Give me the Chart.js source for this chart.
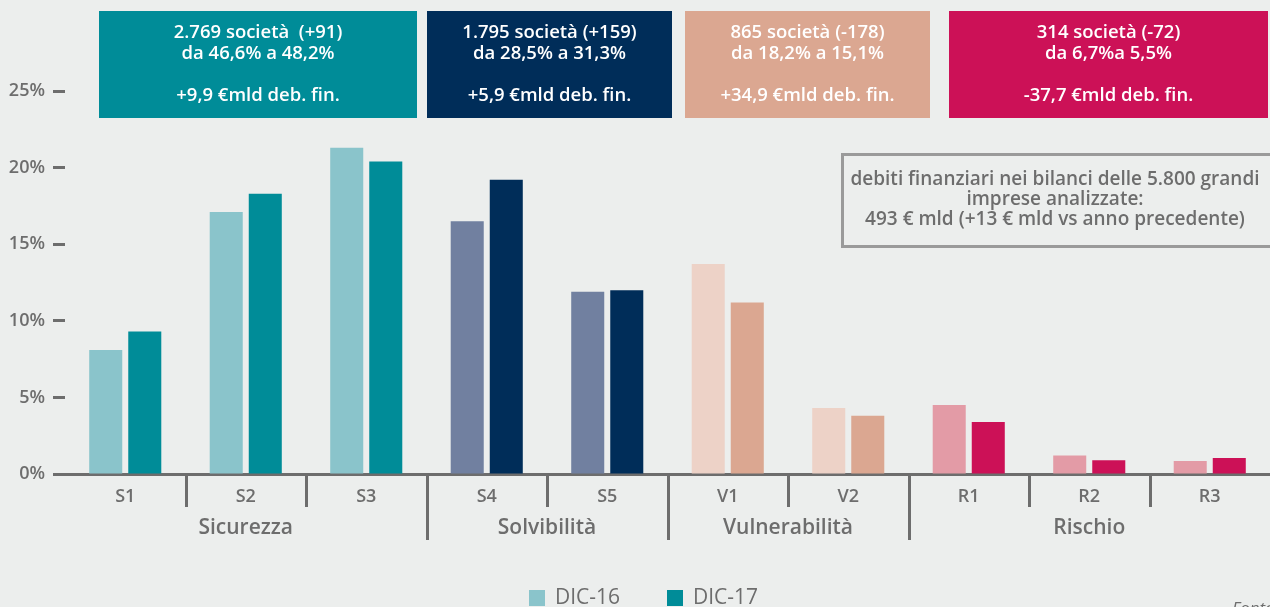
<!DOCTYPE html>
<html>
<head>
<meta charset="utf-8">
<script src="https://cdn.jsdelivr.net/npm/chart.js@4/dist/chart.umd.min.js"></script>
<style>
  html, body { margin: 0; padding: 0; background: #eceeed; }
  #wrap { width: 1270px; height: 607px; }
</style>
</head>
<body>
<div id="wrap"><canvas id="chart" width="1270" height="607"></canvas></div>
<script>
// data (% of companies)
const categories = ['S1', 'S2', 'S3', 'S4', 'S5', 'V1', 'V2', 'R1', 'R2', 'R3'];
const groups = ['Sicurezza', 'Sicurezza', 'Sicurezza', 'Solvibilità', 'Solvibilità',
  'Vulnerabilità', 'Vulnerabilità', 'Rischio', 'Rischio', 'Rischio'];
const dic16 = [8.1, 17.1, 21.3, 16.5, 11.9, 13.7, 4.3, 4.5, 1.2, 0.85];
const dic17 = [9.3, 18.3, 20.4, 19.2, 12.0, 11.2, 3.8, 3.4, 0.9, 1.05];
const seriesNames = ['DIC-16', 'DIC-17'];
const yTicks = [0, 5, 10, 15, 20, 25];

const groupColors16 = {
  'Sicurezza': '#8ac4cb', 'Solvibilità': '#7180a0',
  'Vulnerabilità': '#edd2c7', 'Rischio': '#e39ba6'
};
const groupColors17 = {
  'Sicurezza': '#008c98', 'Solvibilità': '#002d59',
  'Vulnerabilità': '#dba791', 'Rischio': '#cc1157'
};

const boxes = [
  { x0: 99, x1: 417, color: '#008c98', lines: ['2.769 società  (+91)', 'da 46,6% a 48,2%', '', '+9,9 €mld deb. fin.'] },
  { x0: 427, x1: 672, color: '#002d59', lines: ['1.795 società (+159)', 'da 28,5% a 31,3%', '', '+5,9 €mld deb. fin.'] },
  { x0: 685, x1: 930, color: '#dba791', lines: ['865 società (-178)', 'da 18,2% a 15,1%', '', '+34,9 €mld deb. fin.'] },
  { x0: 949, x1: 1268, color: '#cc1157', lines: ['314 società (-72)', 'da 6,7%a 5,5%', '', '-37,7 €mld deb. fin.'] }
];
const noteLines = [
  'debiti finanziari nei bilanci delle 5.800 grandi',
  'imprese analizzate:',
  '493 € mld (+13 € mld vs anno precedente)'
];

const GREY = '#6d6d6d';
const FONT = "'Open Sans', sans-serif";

const extras = {
  id: 'extras',
  beforeDraw(chart) {
    const ctx = chart.ctx;
    ctx.save();
    ctx.fillStyle = '#eceeed';
    ctx.fillRect(0, 0, chart.width, chart.height);
    ctx.restore();
  },
  afterDraw(chart) {
    const ctx = chart.ctx;
    const x = chart.scales.x;
    const bottom = chart.chartArea.bottom;
    ctx.save();

    // dividers between categories, longer ones between groups
    ctx.strokeStyle = GREY;
    ctx.lineWidth = 3;
    for (let i = 0; i < categories.length - 1; i++) {
      const px = Math.round((x.getPixelForTick(i) + x.getPixelForTick(i + 1)) / 2) + 0.5;
      const long = groups[i] !== groups[i + 1];
      ctx.beginPath();
      ctx.moveTo(px, bottom);
      ctx.lineTo(px, bottom + (long ? 66 : 33));
      ctx.stroke();
    }

    // group names
    ctx.fillStyle = GREY;
    ctx.font = '600 21px ' + FONT;
    ctx.textAlign = 'center';
    ctx.textBaseline = 'middle';
    const half = (x.getPixelForTick(1) - x.getPixelForTick(0)) / 2;
    [...new Set(groups)].forEach(g => {
      const first = groups.indexOf(g);
      const last = groups.lastIndexOf(g);
      const cx = (x.getPixelForTick(first) - half + x.getPixelForTick(last) + half) / 2;
      ctx.fillText(g, cx, bottom + 54);
    });

    // summary boxes on top
    boxes.forEach(b => {
      ctx.fillStyle = b.color;
      ctx.fillRect(b.x0, 11, b.x1 - b.x0, 107);
      ctx.fillStyle = '#ffffff';
      ctx.font = '600 18.5px ' + FONT;
      b.lines.forEach((t, k) => {
        if (t) ctx.fillText(t, (b.x0 + b.x1) / 2, 33 + k * 21);
      });
    });

    // note box
    ctx.strokeStyle = '#9a9a9a';
    ctx.lineWidth = 3;
    ctx.strokeRect(842.5, 154.5, 440, 92);
    ctx.fillStyle = GREY;
    ctx.font = '600 19px ' + FONT;
    noteLines.forEach((t, k) => ctx.fillText(t, 1055, 180 + k * 20));

    // legend
    ctx.textAlign = 'left';
    ctx.font = '21px ' + FONT;
    const legendX = [529, 667];
    chart.data.datasets.forEach((ds, k) => {
      ctx.fillStyle = ds.backgroundColor[0];
      ctx.fillRect(legendX[k], 590, 16, 16);
      ctx.fillStyle = GREY;
      ctx.fillText(ds.label, legendX[k] + 26, 598);
    });

    // source (cut off at the edge)
    ctx.font = 'italic 17px ' + FONT;
    ctx.textBaseline = 'alphabetic';
    ctx.fillText('Fonte: Cerved', 1232, 614);

    ctx.restore();
  }
};

new Chart(document.getElementById('chart'), {
  type: 'bar',
  data: {
    labels: categories,
    datasets: [
      {
        label: seriesNames[0],
        data: dic16,
        backgroundColor: groups.map(g => groupColors16[g])
      },
      {
        label: seriesNames[1],
        data: dic17,
        backgroundColor: groups.map(g => groupColors17[g])
      }
    ]
  },
  options: {
    responsive: false,
    animation: false,
    categoryPercentage: 0.648,
    barPercentage: 0.846,
    layout: { padding: { top: 91, right: 0, bottom: 0, left: 0 } },
    plugins: {
      legend: { display: false },
      tooltip: { enabled: false }
    },
    scales: {
      x: {
        afterFit: s => { s.height = 133; },
        grid: { display: false },
        border: { color: GREY, width: 3 },
        ticks: {
          color: GREY,
          padding: 4,
          font: { family: FONT, size: 18, weight: '600' }
        }
      },
      y: {
        min: 0,
        max: 25,
        afterFit: s => { s.width = 65; },
        afterBuildTicks: s => { s.ticks = yTicks.map(v => ({ value: v })); },
        border: { display: false },
        grid: {
          drawOnChartArea: false,
          tickLength: 12,
          tickColor: GREY,
          tickWidth: 3
        },
        ticks: {
          color: GREY,
          padding: 8,
          font: { family: FONT, size: 18, weight: '600' },
          callback: v => v + '%'
        }
      }
    }
  },
  plugins: [extras]
});
</script>
</body>
</html>
